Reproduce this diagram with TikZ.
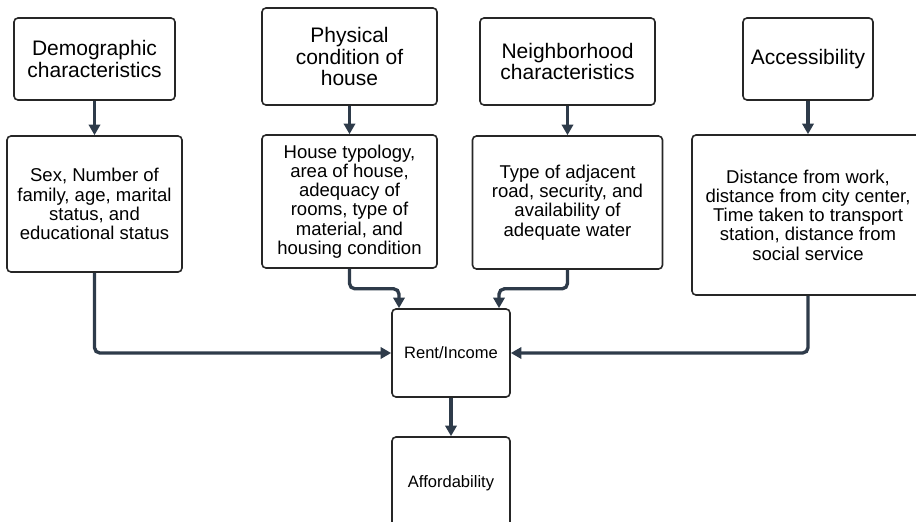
\documentclass[tikz,border=0pt]{standalone}
\usepackage{fontspec}
\setmainfont{Liberation Sans}
\usetikzlibrary{arrows.meta}
\definecolor{linkgray}{HTML}{2E3B4A}

\begin{document}
\begin{tikzpicture}[x=0.75pt,y=-0.75pt,
        box/.style={draw=black!85,line width=1.2pt,rounded corners=3pt,align=center,inner sep=0pt},
        sz/.style 2 args={minimum width=#1*0.75pt,minimum height=#2*0.75pt},
        head/.style={font=\fontsize{15.75}{16.4}\selectfont},
        body/.style={font=\fontsize{13.9}{14.4}\selectfont},
        small/.style={font=\fontsize{12.4}{14}\selectfont},
        link/.style={draw=linkgray,line width=2.5pt,rounded corners=4pt,-{Triangle[length=8pt,width=8.5pt]}}]
        \useasboundingbox (0,0) rectangle (916,521);

        % factors
        \node[box,head,sz={161}{82}] (demo) at (94.5,59) {Demographic\\characteristics};
        \node[box,head,sz={175}{97}] (phys) at (349.5,56.5) {Physical\\condition of\\house};
        \node[box,head,sz={175}{87}] (neigh) at (567.5,61.5) {Neighborhood\\characteristics};
        \node[box,head,sz={130}{82}] (acc) at (808,59) {Accessibility};

        % indicators
        \node[box,body,sz={175}{136}] (sex) at (94.5,204) {Sex, Number of\\family, age, marital\\status, and\\educational status};
        \node[box,body,sz={175}{133}] (house) at (349.5,201.5) {House typology,\\area of house,\\adequacy of\\rooms, type of\\material, and\\housing condition};
        \node[box,body,sz={190}{133}] (adj) at (567.5,202.5) {Type of adjacent\\road, security, and\\availability of\\adequate water};
        \node[box,body,sz={232}{160}] (dist) at (808,215) {Distance from work,\\distance from city center,\\Time taken to transport\\station, distance from\\social service};

        \node[box,small,sz={118}{88}] (rent) at (451,353) {Rent/Income};
        \node[box,small,sz={118}{93}] (aff) at (451,483.5) {Affordability};

        \foreach \a/\b in {demo/sex,phys/house,neigh/adj,acc/dist}
        \draw[link] (\a) -- (\b);

        \draw[link] (sex.south) |- (rent.west);
        \draw[link] (dist.south) |- (rent.east);
        \draw[link] (house.south) -- ++(0,20) -| ([xshift=-39pt]rent.north);
        \draw[link] (adj.south) -- ++(0,19) -| ([xshift=36pt]rent.north);
        \draw[link] (rent) -- (aff);
    \end{tikzpicture}
\end{document}
